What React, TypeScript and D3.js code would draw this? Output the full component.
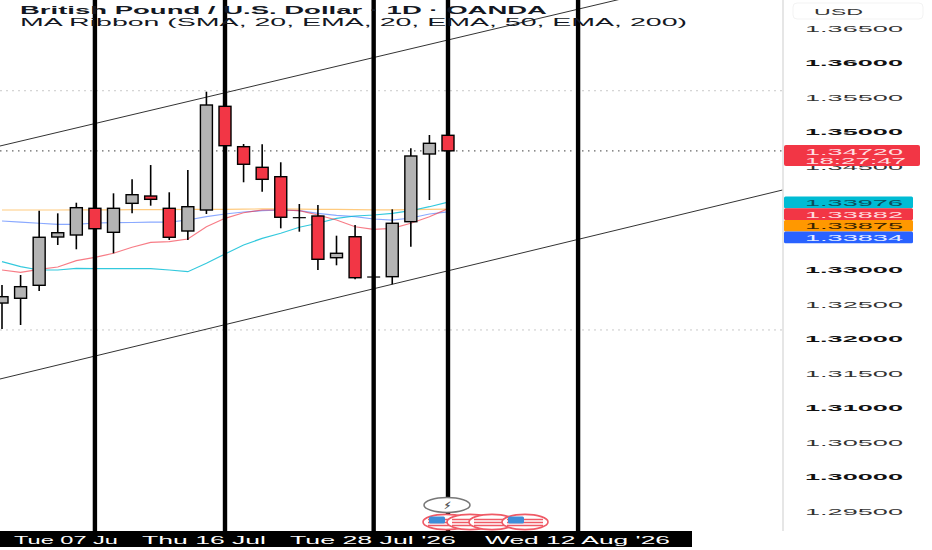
import React from "react";
import * as d3 from "d3";

const W = 932, H = 550;

const opens = [1.32514,1.32583,1.32771,1.33471,1.335,1.33887,1.33539,1.33959,1.34065,1.33887,1.33558,1.33862,1.35365,1.3478,1.34481,1.34345,1.33751,1.33775,1.33171,1.33475,1.32891,1.32896,1.33693,1.34674,1.34945];
const highs = [1.32775,1.3292,1.33852,1.33814,1.33968,1.33935,1.34104,1.34307,1.34514,1.34119,1.34442,1.35577,1.3545,1.34819,1.34814,1.34554,1.33949,1.33935,1.3349,1.33645,1.3292,1.33872,1.34757,1.34949,1.34955];
const lows = [1.32138,1.32196,1.32688,1.33355,1.33293,1.33543,1.33235,1.33814,1.33925,1.33428,1.33428,1.33804,1.3475,1.34264,1.34128,1.33597,1.33548,1.32993,1.33061,1.32858,1.3287,1.32786,1.3333,1.34007,1.3472];
const closes = [1.32606,1.32751,1.33467,1.33533,1.33896,1.33591,1.33887,1.34084,1.34017,1.33467,1.3391,1.35384,1.34794,1.34525,1.34307,1.33757,1.33751,1.33148,1.33235,1.32881,1.32889,1.3367,1.34645,1.34829,1.3472];

const sma20 = [1.33703,1.33688,1.3367,1.33655,1.33655,1.33674,1.33678,1.33681,1.33686,1.33688,1.33717,1.33765,1.33804,1.33833,1.33852,1.33862,1.33852,1.33814,1.33785,1.33765,1.33732,1.33717,1.33746,1.33804,1.33834];
const ema20 = [1.32993,1.32959,1.33003,1.33036,1.33128,1.33177,1.33235,1.33322,1.33394,1.33403,1.33442,1.3362,1.33742,1.33823,1.33862,1.33862,1.33852,1.3379,1.33717,1.3362,1.33583,1.33597,1.3367,1.33765,1.33882];
const ema50 = [1.33862,1.33862,1.33862,1.33862,1.33865,1.33865,1.33865,1.33868,1.33868,1.33868,1.3387,1.3387,1.33872,1.33875,1.33878,1.33878,1.33875,1.33872,1.3387,1.33868,1.33865,1.33865,1.33868,1.33872,1.33875];
const ema200 = [1.33113,1.33041,1.32993,1.32993,1.33017,1.33012,1.33012,1.33012,1.33012,1.32993,1.32968,1.3309,1.33225,1.33355,1.33452,1.33525,1.33612,1.3367,1.33742,1.33775,1.3379,1.33814,1.33852,1.3391,1.33976];

const vLineIdx = [5, 12, 20, 24, 31];
const upperChannel: [number, number][] = [[-1, 1.34733], [34, 1.36964]];
const lowerChannel: [number, number][] = [[-1, 1.31355], [42, 1.34152]];
const lightLevels = [1.35591, 1.32124];
const lastPrice = 1.3472;

const priceTicks = [1.365,1.36,1.355,1.35,1.345,1.33,1.325,1.32,1.315,1.31,1.305,1.30,1.295];
const strongTicks = [1.36,1.35,1.33,1.32,1.31,1.30];

const timeLabels = [
  { text: "Tue 07 Ju", x0: 14, len: 104 },
  { text: "Thu 16 Jul", x0: 142, len: 124 },
  { text: "Tue 28 Jul '26", x0: 290, len: 166 },
  { text: "Wed 12 Aug '26", x0: 485, len: 185 },
];

const maLabels = [
  { text: "1.33976", bg: "#00bcd4", fg: "#0b4f5c", top: 196.5 },
  { text: "1.33882", bg: "#f23645", fg: "#ffd9dc", top: 208.2 },
  { text: "1.33875", bg: "#ff9800", fg: "#3b2500", top: 219.9 },
  { text: "1.33834", bg: "#2962ff", fg: "#e4ecff", top: 231.6 },
];

const maSeries = [
  { v: ema50, c: "#ff9800", o: 0.5 },
  { v: sma20, c: "#2962ff", o: 0.55 },
  { v: ema200, c: "#00bcd4", o: 0.8 },
  { v: ema20, c: "#f23645", o: 0.65 },
];

const flagCenters = [446, 470, 492, 525];

const x = d3.scaleLinear().domain([0, 24]).range([2, 448]);
const y = d3.scaleLinear().domain([1.35, 1.30]).range([131.5, 476.5]);
const line = d3.line<[number, number]>().x((d) => x(d[0])).y((d) => y(d[1]));
const maLine = d3.line<number>().x((_, i) => x(i)).y((d) => y(d));

const font = "'Liberation Sans', Arial, sans-serif";
const GRAY = "#b4b4b4";
const RED = "#f23645";

function Flag({ cx, full }: { cx: number; full: boolean }) {
  const cy = 522;
  return (
    <g>
      <ellipse cx={cx} cy={cy} rx={23} ry={7.6} fill="#fff" stroke="#ef5a66" strokeWidth={1.6} />
      {[-2.5, 0.5, 3.5].map((d) => (
        <line key={d} x1={cx - 18} x2={cx + 18} y1={cy + d} y2={cy + d} stroke="#ef5a66" strokeWidth={1.3} />
      ))}
      {full && <rect x={cx - 17} y={cy - 5.5} width={16} height={7} rx={1.5} fill="#3f8ed8" />}
    </g>
  );
}

export default function App() {
  return (
    <svg width={W} height={H} style={{ position: "fixed", left: 0, top: 0, background: "#fff" }} fontFamily={font}>
      {lightLevels.map((l) => (
        <line key={l} x1={0} x2={783} y1={y(l)} y2={y(l)} stroke="#c9c9c9" strokeWidth={1} strokeDasharray="2 4" />
      ))}
      <line x1={0} x2={783} y1={y(lastPrice)} y2={y(lastPrice)} stroke="#666" strokeWidth={1.3} strokeDasharray="1.5 4.5" />

      <path d={line(upperChannel)!} stroke="#333" strokeWidth={1} fill="none" />
      <path d={line(lowerChannel)!} stroke="#333" strokeWidth={1} fill="none" />

      {maSeries.map((m) => (
        <path key={m.c} d={maLine(m.v)!} fill="none" stroke={m.c} strokeOpacity={m.o} strokeWidth={1.2} />
      ))}

      {vLineIdx.map((i) => (
        <line key={i} x1={x(i)} x2={x(i)} y1={0} y2={531} stroke="#000" strokeWidth={4.4} />
      ))}

      {opens.map((o, i) => {
        const c = closes[i];
        const top = y(Math.max(o, c));
        const h = Math.abs(y(o) - y(c));
        const doji = h < 1;
        return (
          <g key={i}>
            <line x1={x(i)} x2={x(i)} y1={y(highs[i])} y2={y(lows[i])} stroke="#000" strokeWidth={1.6} />
            {doji ? (
              <line x1={x(i) - 6.5} x2={x(i) + 6.5} y1={top} y2={top} stroke="#000" strokeWidth={1.2} />
            ) : (
              <rect x={x(i) - 6} y={top} width={12} height={h} fill={c >= o ? GRAY : RED} stroke="#000" strokeWidth={1.4} />
            )}
          </g>
        );
      })}

      <text x={20} y={14} fontSize={10} fontWeight={700} fill="#131722" textLength={527} lengthAdjust="spacingAndGlyphs">
        British Pound / U.S. Dollar · 1D · OANDA
      </text>
      <text x={20} y={26} fontSize={10} fill="#131722" textLength={667} lengthAdjust="spacingAndGlyphs">
        MA Ribbon (SMA, 20, EMA, 20, EMA, 50, EMA, 200)
      </text>

      <rect x={783} y={0} width={149} height={550} fill="#fff" />
      <line x1={783} x2={783} y1={0} y2={531} stroke="#d6d6d6" strokeWidth={1.2} />
      <rect x={793} y={3} width={130} height={16} rx={4} fill="#fff" stroke="#f3f3f3" />
      <text x={814} y={14.5} fontSize={9.5} fill="#333" textLength={49} lengthAdjust="spacingAndGlyphs">USD</text>

      {priceTicks.map((t) => {
        const strong = strongTicks.includes(t);
        return (
          <text key={t} x={805} y={y(t) + 3.5} fontSize={9.5} fontWeight={strong ? 700 : 400} fill={strong ? "#111" : "#333"}
            textLength={98} lengthAdjust="spacingAndGlyphs">
            {t.toFixed(5)}
          </text>
        );
      })}

      <rect x={784} y={145} width={136} height={21} rx={2} fill={RED} />
      <text x={805} y={154.5} fontSize={9.5} fill="#ffdfe1" textLength={98} lengthAdjust="spacingAndGlyphs">{lastPrice.toFixed(5)}</text>
      <text x={805} y={164} fontSize={9.5} fill="#ffdfe1" textLength={101} lengthAdjust="spacingAndGlyphs">18:27:47</text>

      {maLabels.map((m) => (
        <g key={m.text}>
          <rect x={784} y={m.top} width={129} height={11.7} rx={1.5} fill={m.bg} />
          <text x={805} y={m.top + 9.3} fontSize={9.5} fill={m.fg} textLength={98} lengthAdjust="spacingAndGlyphs">{m.text}</text>
        </g>
      ))}

      <rect x={0} y={531} width={692} height={16} fill="#000" />
      {timeLabels.map((t) => (
        <text key={t.text} x={t.x0} y={543.5} fontSize={10.5} fill="#fff" textLength={t.len} lengthAdjust="spacingAndGlyphs">{t.text}</text>
      ))}

      {flagCenters.map((c, i) => (
        <Flag key={c} cx={c} full={i === 0 || i === 3} />
      ))}
      <ellipse cx={447} cy={505} rx={23} ry={7.5} fill="#fff" stroke="#777" strokeWidth={1.5} />
      <text x={447} y={509} fontSize={10} textAnchor="middle" fill="#555" fontWeight={700}>⚡︎</text>
    </svg>
  );
}
